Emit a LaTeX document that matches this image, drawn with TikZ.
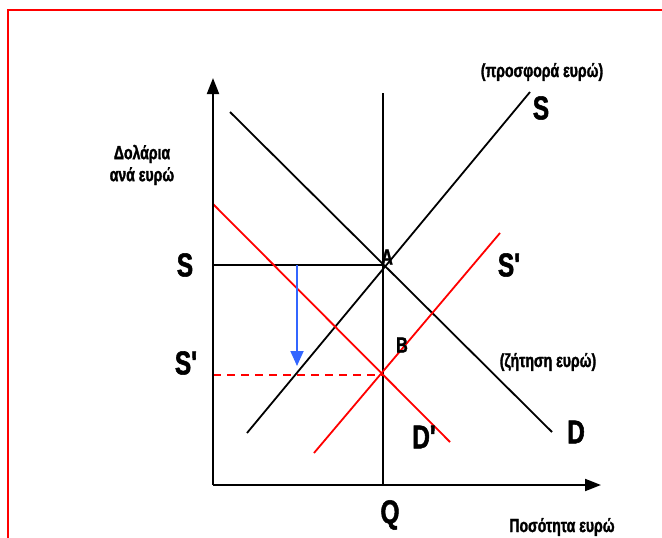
\documentclass[tikz,border=0pt]{standalone}
\usepackage{fontspec}
\setmainfont{Liberation Sans}[FakeStretch=0.74, BoldFeatures={FakeBold=1.6}]
\usetikzlibrary{arrows.meta,positioning}
\definecolor{shiftblue}{RGB}{51,102,255}

\begin{document}
\begin{tikzpicture}[x=1pt, y=-1pt,
  axis/.style={line width=2pt, -{Triangle[length=16pt,width=12pt]}},
  curve/.style={line width=1.8pt},
  droparrow/.style={line width=1.8pt, shiftblue, -{Triangle[length=15pt,width=13pt]}},
  big/.style={font=\bfseries\fontsize{33}{35}\selectfont, inner sep=0pt},
  mid/.style={font=\bfseries\fontsize{22}{24}\selectfont, inner sep=0pt},
  note/.style={font=\bfseries\fontsize{19}{22}\selectfont, inner sep=0pt, align=center}
]
  \useasboundingbox (0,0) rectangle (662,538);
  \draw[red, line width=2pt] (8,545) -- (8,10) -- (670,10);

  \coordinate (O) at (213,485);
  \coordinate (ytop) at (213,78);
  \coordinate (xend) at (601,485);
  \coordinate (A) at (383,265);
  \coordinate (B) at (383,375);
  \coordinate (qtop) at (383,93);
  \coordinate (qbot) at (383,485);
  \coordinate (pS) at (213,265);
  \coordinate (pSn) at (213,375);
  \coordinate (d1) at (230,112);
  \coordinate (d2) at (552,432);
  \coordinate (s1) at (247,433);
  \coordinate (s2) at (530,92);
  \coordinate (sn1) at (314,453);
  \coordinate (sn2) at (500,233);
  \coordinate (dn1) at (213,204);
  \coordinate (dn2) at (450,442);
  \coordinate (drop1) at (297,265);
  \coordinate (drop2) at (297,366);

  \draw[curve] (qbot) -- (qtop);
  \draw[curve] (pS) -- (A);
  \draw[curve, red, dash pattern=on 8pt off 6pt] (pSn) -- (B);
  \draw[curve] (d1) -- (d2);
  \draw[curve] (s1) -- (s2);
  \draw[curve, red] (sn1) -- (sn2);
  \draw[curve, red] (dn1) -- (dn2);
  \draw[droparrow] (drop1) -- (drop2);
  \draw[axis] (O) -- (ytop);
  \draw[axis] (O) -- (xend);

  \node[big] (lS) at (185,265) {S};
  \node[big] (lSn) at (187,363) {S\textquotesingle};
  \node[mid] (lA) at (387,257) {A};
  \node[mid] (lB) at (402,345) {B};
  \node[big] (rSn) at (510,265) {S\textquotesingle};
  \node[big] (rS) at (541,108) {S};
  \node[note] (supply) at (542,72) {(προσφορά ευρώ)};
  \node[note] (demand) at (548,362) {(ζήτηση ευρώ)};
  \node[big] (rD) at (576,432) {D};
  \node[big] (rDn) at (425,437) {D\textquotesingle};
  \node[big] (lQ) at (390,515) {Q};
  \node[note] (xlab) at (562,527) {Ποσότητα ευρώ};
  \node[note] (ylab) at (142,165) {Δολάρια\\ανά ευρώ};
\end{tikzpicture}
\end{document}
